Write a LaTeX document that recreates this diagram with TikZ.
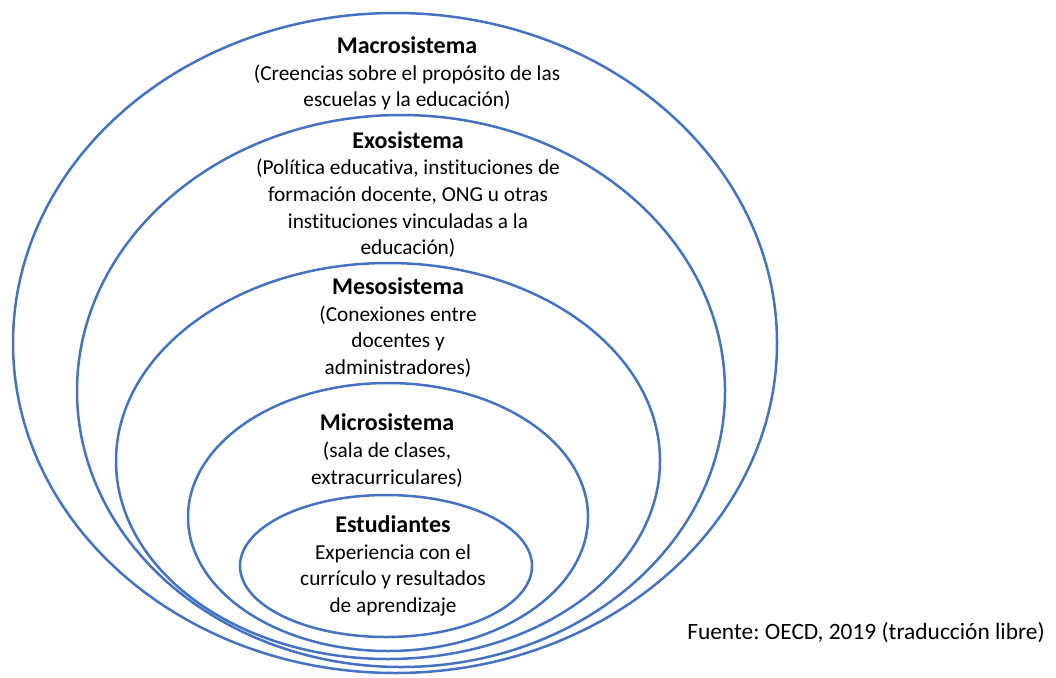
\documentclass[tikz,border=0pt]{standalone}
\usepackage{fontspec}
\setmainfont[Ligatures=NoCommon]{Carlito}
\frenchspacing
\usetikzlibrary{shapes.geometric}
\definecolor{LayerBlue}{HTML}{4472C4}
\newcommand{\layertitle}[1]{{\fontsize{24}{26.6}\selectfont\bfseries #1}}

\begin{document}
\begin{tikzpicture}[
  x=1pt,y=-1pt,
  layer/.style={ellipse,draw=LayerBlue,line width=2.5pt,inner sep=0pt},
  txt/.style={align=center,inner sep=0pt,font=\fontsize{21.3}{26.6}\selectfont},
  note/.style={inner sep=0pt,font=\fontsize{23.4}{26.6}\selectfont}
]
  \useasboundingbox (0,0) rectangle (1056,677);
  % nested layers, outer to inner
  \node[layer,minimum width=764,minimum height=660] (macro) at (395,343) {};
  \node[layer,minimum width=648,minimum height=552] (exo) at (401,391) {};
  \node[layer,minimum width=544,minimum height=396] (meso) at (388,461) {};
  \node[layer,minimum width=400,minimum height=268] (micro) at (388,517) {};
  \node[layer,minimum width=292,minimum height=142] (estud) at (386,566) {};
  % labels
  \node[txt] (macrotxt) at (407,73.5) {\layertitle{Macrosistema}\\(Creencias sobre el propósito de las\\escuelas y la educación)};
  \node[txt] (exotxt) at (408,194.5) {\layertitle{Exosistema}\\(Política educativa, instituciones de\\formación docente, ONG u otras\\instituciones vinculadas a la\\educación)};
  \node[txt] (mesotxt) at (398,327.5) {\layertitle{Mesosistema}\\(Conexiones entre\\docentes y\\administradores)};
  \node[txt] (microtxt) at (387,450.5) {\layertitle{Microsistema}\\(sala de clases,\\extracurriculares)};
  \node[txt] (estudtxt) at (393,566) {\layertitle{Estudiantes}\\Experiencia con el\\currículo y resultados\\de aprendizaje};
  \node[note] (fuente) at (866,633) {Fuente: OECD, 2019 (traducción libre)};
\end{tikzpicture}
\end{document}
